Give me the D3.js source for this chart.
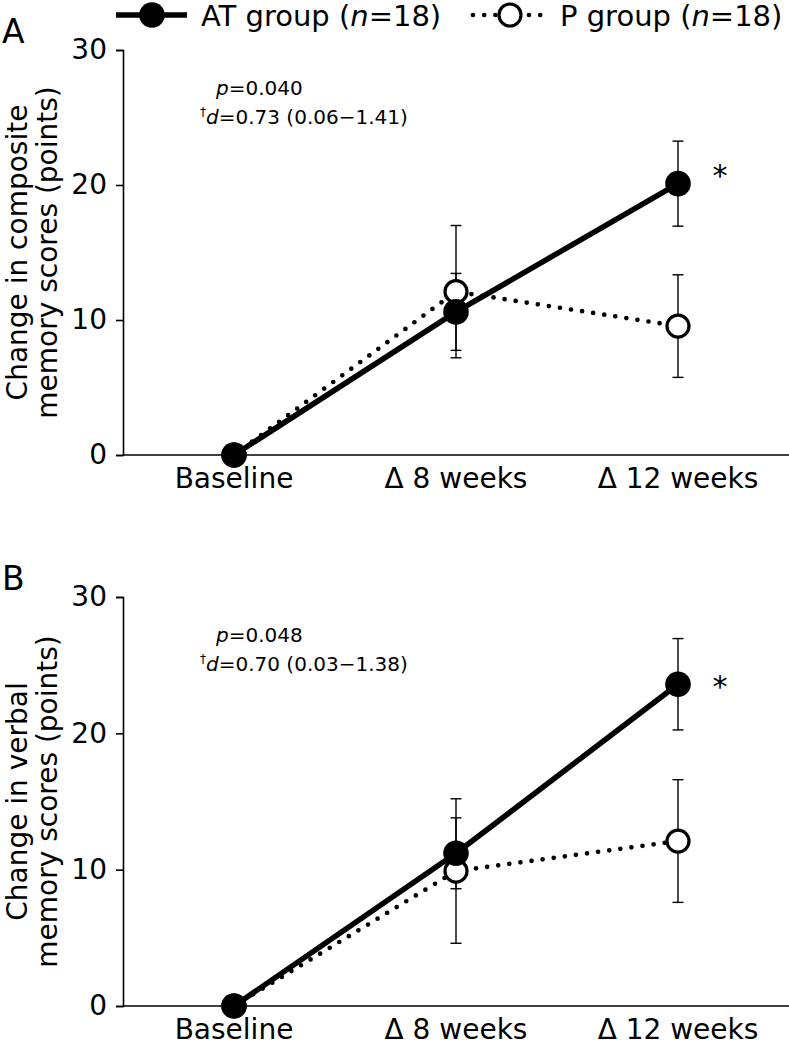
<!DOCTYPE html>
<html>
<head>
<meta charset="utf-8">
<script src="https://cdn.jsdelivr.net/npm/d3@7"></script>
<style>
  body { margin: 0; background: #fff; }
  text { font-family: "DejaVu Sans", Verdana, sans-serif; fill: #000; }
</style>
</head>
<body>
<div id="chart"></div>
<script>
// categories on the x axis
var categories = ["Baseline", "\u0394 8 weeks", "\u0394 12 weeks"];
var yTicks = [0, 10, 20, 30];

// Panel A - composite memory
var compAT = [0, 10.6, 20.1];
var compATerr = [0, 2.85, 3.15];
var compP = [0, 12.1, 9.55];
var compPerr = [0, 4.9, 3.8];

// Panel B - verbal memory
var verbAT = [0, 11.2, 23.6];
var verbATerr = [0, 2.6, 3.35];
var verbP = [0, 9.9, 12.1];
var verbPerr = [0, 5.3, 4.5];

var panelLabels = ["A", "B"];
var yTitles = [["Change in composite", "memory scores (points)"],
               ["Change in verbal", "memory scores (points)"]];
var pTexts = ["0.040", "0.048"];
var dTexts = ["0.73 (0.06\u22121.41)", "0.70 (0.03\u22121.38)"];

var W = 789, H = 1047;
var svg = d3.select("#chart").append("svg")
    .attr("width", W)
    .attr("height", H);

var x = d3.scalePoint()
    .domain(categories)
    .range([123, 789])
    .padding(0.5);

var panels = [
    {top: 50, bottom: 455, at: compAT, atErr: compATerr, p: compP, pErr: compPerr, starDy: 2},
    {top: 597, bottom: 1006, at: verbAT, atErr: verbATerr, p: verbP, pErr: verbPerr, starDy: 13}
];

function series(vals, errs) {
    return categories.map((c, i) => ({cat: c, v: vals[i], e: errs[i]}));
}

panels.forEach(function(pn, k) {
    var y = d3.scaleLinear().domain([0, 30]).range([pn.bottom, pn.top]);
    var g = svg.append("g");

    // Panel letter
    g.append("text")
        .attr("x", 2)
        .attr("y", pn.top - 7)
        .attr("font-size", "33px")
        .text(panelLabels[k]);

    // Y axis
    var yAxis = g.append("g")
        .attr("transform", "translate(123,0)")
        .call(d3.axisLeft(y).tickValues(yTicks).tickSize(7).tickPadding(9));
    yAxis.select(".domain").attr("stroke-width", 1.6);
    yAxis.selectAll(".tick line").attr("stroke-width", 1.6);
    yAxis.selectAll("text").attr("font-size", "28px").style("font-family", "DejaVu Sans");

    // X axis line, no ticks
    g.append("line")
        .attr("x1", 123).attr("x2", W)
        .attr("y1", y(0)).attr("y2", y(0))
        .attr("stroke", "#000").attr("stroke-width", 1.6);

    g.selectAll(".xlab")
        .data(categories)
        .join("text")
        .attr("class", "xlab")
        .attr("x", d => x(d))
        .attr("y", y(0) + 33)
        .attr("text-anchor", "middle")
        .attr("font-size", "28px")
        .text(d => d);

    // Y title (two lines)
    var midY = (pn.top + pn.bottom) / 2;
    yTitles[k].forEach(function(t, i) {
        g.append("text")
            .attr("transform", `translate(${27 + i * 30},${midY}) rotate(-90)`)
            .attr("text-anchor", "middle")
            .attr("font-size", "28px")
            .text(t);
    });

    // Annotation
    var ann = g.append("text").attr("font-size", "20px")
        .attr("x", 216).attr("y", pn.top + 45);
    ann.append("tspan").attr("font-style", "italic").text("p");
    ann.append("tspan").text("=" + pTexts[k]);
    var ann2 = g.append("text").attr("font-size", "20px")
        .attr("x", 200).attr("y", pn.top + 74);
    ann2.append("tspan").attr("font-size", "12px").attr("dy", -8).text("\u2020");
    ann2.append("tspan").attr("font-style", "italic").attr("dy", 8).text("d");
    ann2.append("tspan").text("=" + dTexts[k]);

    var sAT = series(pn.at, pn.atErr);
    var sP = series(pn.p, pn.pErr);

    var line = d3.line().x(d => x(d.cat)).y(d => y(d.v));

    // Error bars (skip baseline)
    [sP, sAT].forEach(function(s) {
        var eb = g.append("g").selectAll("g")
            .data(s.filter(d => d.e > 0))
            .join("g");
        eb.append("line")
            .attr("x1", d => x(d.cat)).attr("x2", d => x(d.cat))
            .attr("y1", d => y(d.v - d.e)).attr("y2", d => y(d.v + d.e))
            .attr("stroke", "#000").attr("stroke-width", 1.4);
        eb.append("line")
            .attr("x1", d => x(d.cat) - 5.5).attr("x2", d => x(d.cat) + 5.5)
            .attr("y1", d => y(d.v - d.e)).attr("y2", d => y(d.v - d.e))
            .attr("stroke", "#000").attr("stroke-width", 1.4);
        eb.append("line")
            .attr("x1", d => x(d.cat) - 5.5).attr("x2", d => x(d.cat) + 5.5)
            .attr("y1", d => y(d.v + d.e)).attr("y2", d => y(d.v + d.e))
            .attr("stroke", "#000").attr("stroke-width", 1.4);
    });

    // P group: dotted line, open circles
    g.append("path")
        .datum(sP)
        .attr("d", line)
        .attr("fill", "none")
        .attr("stroke", "#000")
        .attr("stroke-width", 4.7)
        .attr("stroke-linecap", "round")
        .attr("stroke-dasharray", "0,11.2");
    g.selectAll(".pdot")
        .data(sP)
        .join("circle")
        .attr("class", "pdot")
        .attr("cx", d => x(d.cat)).attr("cy", d => y(d.v))
        .attr("r", 11)
        .attr("fill", "#fff")
        .attr("stroke", "#000")
        .attr("stroke-width", 3.2);

    // AT group: solid line, filled circles
    g.append("path")
        .datum(sAT)
        .attr("d", line)
        .attr("fill", "none")
        .attr("stroke", "#000")
        .attr("stroke-width", 5.5);
    g.selectAll(".atdot")
        .data(sAT)
        .join("circle")
        .attr("class", "atdot")
        .attr("cx", d => x(d.cat)).attr("cy", d => y(d.v))
        .attr("r", 12.8)
        .attr("fill", "#000");

    // significance star
    var last = sAT[sAT.length - 1];
    g.append("text")
        .attr("x", x(last.cat) + 42)
        .attr("y", y(last.v) + pn.starDy)
        .attr("text-anchor", "middle")
        .attr("font-size", "30px")
        .text("*");
});

// Legend
var lg = svg.append("g");
lg.append("line").attr("x1", 116).attr("x2", 187).attr("y1", 15).attr("y2", 15)
    .attr("stroke", "#000").attr("stroke-width", 5.5);
lg.append("circle").attr("cx", 152).attr("cy", 15).attr("r", 12.8).attr("fill", "#000");
var lt = lg.append("text").attr("x", 201).attr("y", 26).attr("font-size", "29px");
lt.append("tspan").text("AT group (");
lt.append("tspan").attr("font-style", "italic").text("n");
lt.append("tspan").text("=18)");

lg.append("line").attr("x1", 473).attr("x2", 548).attr("y1", 15).attr("y2", 15)
    .attr("stroke", "#000").attr("stroke-width", 4.7)
    .attr("stroke-linecap", "round").attr("stroke-dasharray", "0,11.2");
lg.append("circle").attr("cx", 510).attr("cy", 15).attr("r", 11)
    .attr("fill", "#fff").attr("stroke", "#000").attr("stroke-width", 3.2);
var lt2 = lg.append("text").attr("x", 560).attr("y", 26).attr("font-size", "29px");
lt2.append("tspan").text("P group (");
lt2.append("tspan").attr("font-style", "italic").text("n");
lt2.append("tspan").text("=18)");
</script>
</body>
</html>
